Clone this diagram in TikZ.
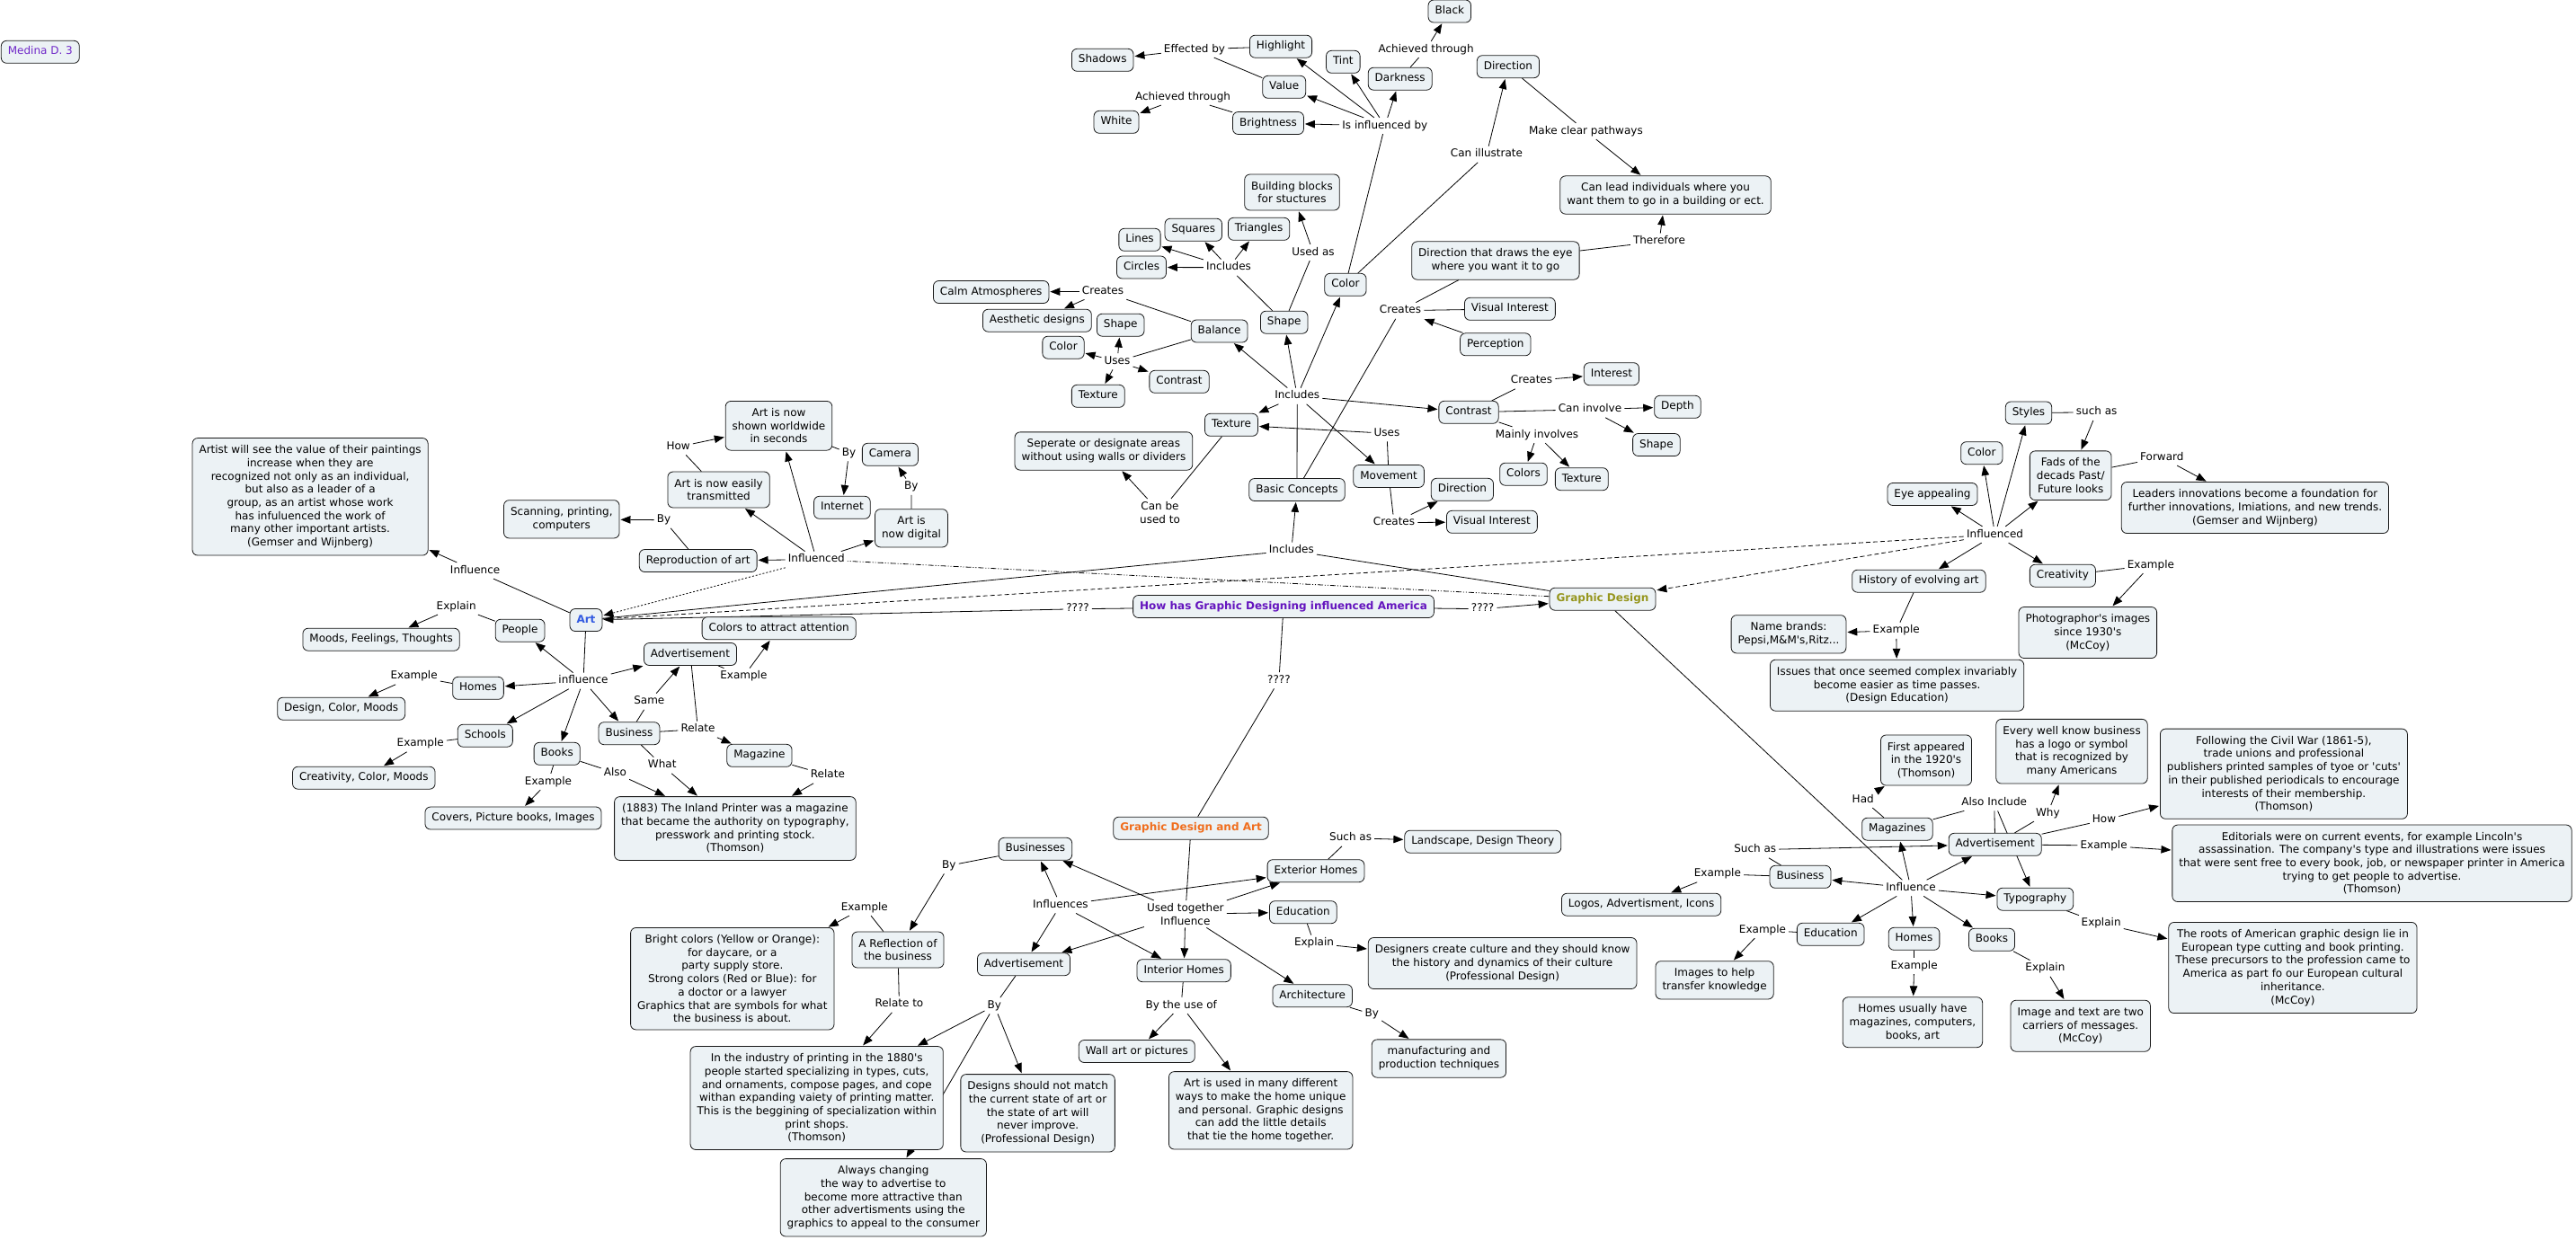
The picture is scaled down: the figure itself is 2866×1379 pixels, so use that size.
\documentclass[tikz,border=0pt]{standalone}
\usepackage{fontspec}
\setmainfont{DejaVu Sans}[Ligatures=TeXOff]
\usetikzlibrary{arrows.meta}
\definecolor{boxfill}{RGB}{236,242,245}
\definecolor{medpurple}{RGB}{112,40,200}
\definecolor{hpurple}{RGB}{100,20,190}
\definecolor{artblue}{RGB}{50,90,225}
\definecolor{gdolive}{RGB}{150,150,30}
\definecolor{gdaorange}{RGB}{240,110,30}
\newcommand\myfs{\fontsize{12}{14.7}\selectfont}
\pgfdeclarelayer{bg}
\pgfsetlayers{bg,main}
\tikzset{
  cbox/.style={draw=black!90, fill=boxfill, rounded corners=6pt, line width=0.8pt, inner xsep=7.5pt, inner ysep=6.6pt, text height=9pt, text depth=2.8pt},
  mbox/.style={draw=black!90, fill=boxfill, rounded corners=6pt, line width=0.8pt, inner xsep=7.5pt, inner ysep=8pt, align=center},
  lbl/.style={inner sep=3pt, text height=9pt, text depth=2.8pt},
  mlbl/.style={inner sep=3pt, align=center},
  ln/.style={line width=0.8pt},
  arr/.style={line width=0.8pt, -{Triangle[length=11pt,width=8.5pt]}, shorten >=1pt},
  dashdd/.style={dash pattern=on 6pt off 2pt on 1pt off 2pt on 1pt off 2pt},
  dotln/.style={dash pattern=on 2pt off 2pt},
  dashln/.style={dash pattern=on 5pt off 3pt},
  boldf/.style={font=\myfs\bfseries}
}
\begin{document}
\begin{tikzpicture}[x=1pt,y=-1pt, every node/.style={font=\myfs}]
\useasboundingbox (0,0) rectangle (2866,1379);
\begin{pgfonlayer}{bg}
\fill[white] (0,0) rectangle (2866,1379);
\end{pgfonlayer}

% ---------- concepts ----------
\node[cbox,text=medpurple] (medina) at (44.8,57.8) {Medina D. 3};
\node[cbox] (shadows) at (1226.7,66.8) {Shadows};
\node[cbox] (highlight) at (1425,51.7) {Highlight};
\node[cbox] (value) at (1428.7,96.8) {Value};
\node[cbox] (white) at (1242,135.8) {White};
\node[cbox] (brightness) at (1411,137) {Brightness};
\node[cbox] (black) at (1612.8,12.5) {Black};
\node[cbox] (tint) at (1494.3,68.8) {Tint};
\node[cbox] (darkness) at (1557.7,87.7) {Darkness};
\node[cbox] (direction1) at (1677.9,74.2) {Direction};
\node[mbox] (canlead) at (1853,217) {Can lead individuals where you\\want them to go in a building or ect.};
\node[mbox] (drawseye) at (1663.9,290) {Direction that draws the eye\\where you want it to go};
\node[cbox] (color1) at (1496.9,316.8) {Color};
\node[mbox] (building) at (1437.5,214) {Building blocks\\for stuctures};
\node[cbox] (squares) at (1327.8,255.7) {Squares};
\node[cbox] (triangles) at (1400.6,254.8) {Triangles};
\node[cbox] (lines) at (1268,266.8) {Lines};
\node[cbox] (circles) at (1270,297.5) {Circles};
\node[cbox] (calm) at (1102.7,325) {Calm Atmospheres};
\node[cbox] (aesthetic) at (1153.9,356.7) {Aesthetic designs};
\node[cbox] (shape2) at (1246.7,361.7) {Shape};
\node[cbox] (color2) at (1183,386.7) {Color};
\node[cbox] (contrast2) at (1312,424.8) {Contrast};
\node[cbox] (texture2) at (1221.8,440.8) {Texture};
\node[cbox] (balance) at (1356.6,368.5) {Balance};
\node[cbox] (shape1) at (1428.7,358.7) {Shape};
\node[cbox] (visint1) at (1679.9,343.8) {Visual Interest};
\node[cbox] (perception) at (1663.8,383.3) {Perception};
\node[cbox] (interest) at (1792.9,416.2) {Interest};
\node[cbox] (contrast1) at (1634,458.8) {Contrast};
\node[cbox] (depth) at (1866.4,452.8) {Depth};
\node[cbox] (shape3) at (1842.9,495) {Shape};
\node[cbox] (colors) at (1695,527.7) {Colors};
\node[cbox] (texture3) at (1759.8,533.2) {Texture};
\node[cbox] (texture1) at (1370,472.8) {Texture};
\node[mbox] (seperate) at (1227.9,502) {Seperate or designate areas\\without using walls or dividers};
\node[cbox] (movement) at (1545.1,530) {Movement};
\node[cbox] (direction2) at (1626.9,544.8) {Direction};
\node[cbox] (visint2) at (1659.9,580.8) {Visual Interest};
\node[cbox] (basic) at (1443,545) {Basic Concepts};
\node[mbox] (shownworld) at (866.5,473.8) {Art is now\\shown worldwide\\in seconds};
\node[cbox] (camera) at (990.4,505.8) {Camera};
\node[cbox] (internet) at (936.9,564.8) {Internet};
\node[mbox] (digital) at (1014,587.8) {Art is\\now digital};
\node[mbox] (transmitted) at (799.6,545) {Art is now easily\\transmitted};
\node[mbox] (scanning) at (624.8,577.8) {Scanning, printing,\\computers};
\node[cbox] (reproduction) at (776.7,624) {Reproduction of art};
\node[mbox] (artist) at (345.1,552.8) {Artist will see the value of their paintings\\increase when they are\\recognized not only as an individual,\\but also as a leader of a\\group, as an artist whose work\\has infuluenced the work of\\many other important artists.\\(Gemser and Wijnberg)};
\node[cbox,boldf,text=artblue] (art) at (652,690) {Art};
\node[cbox] (people) at (578.6,701.7) {People};
\node[cbox] (moods) at (424.1,711.7) {Moods, Feelings, Thoughts};
\node[cbox] (homes1) at (532,765.8) {Homes};
\node[cbox] (dcm) at (379.7,788.7) {Design, Color, Moods};
\node[cbox] (schools) at (539.8,818.7) {Schools};
\node[cbox] (ccm) at (404.8,865.7) {Creativity, Color, Moods};
\node[cbox] (books1) at (619.7,838.8) {Books};
\node[cbox] (covers) at (571,910.5) {Covers, Picture books, Images};
\node[cbox] (business1) at (700,816.2) {Business};
\node[cbox] (adv1) at (768,728) {Advertisement};
\node[cbox] (colorsattr) at (866.7,699.2) {Colors to attract attention};
\node[cbox] (magazine) at (844.9,840.8) {Magazine};
\node[mbox] (inland) at (817.9,922) {(1883) The Inland Printer was a magazine\\that became the authority on typography,\\presswork and printing stock.\\(Thomson)};
\node[cbox,boldf,text=hpurple] (howhas) at (1428,675) {How has Graphic Designing influenced America};
\node[cbox,boldf,text=gdolive] (gd) at (1783,666.7) {Graphic Design};
\node[cbox,boldf,text=gdaorange] (gda) at (1325,921.7) {Graphic Design and Art};
% right side
\node[cbox] (styles) at (2257,459.5) {Styles};
\node[cbox] (color3) at (2204.8,504.2) {Color};
\node[mbox] (fads) at (2303.7,529.2) {Fads of the\\decads Past/\\Future looks};
\node[mbox] (leaders) at (2508.9,565) {Leaders innovations become a foundation for\\further innovations, Imiations, and new trends.\\(Gemser and Wijnberg)};
\node[cbox] (eye) at (2150,550) {Eye appealing};
\node[cbox] (history) at (2134.9,646.7) {History of evolving art};
\node[cbox] (creativity) at (2294.9,640.7) {Creativity};
\node[mbox] (photo) at (2322.8,704) {Photographor's images\\since 1930's\\(McCoy)};
\node[mbox] (namebrands) at (1990,705.8) {Name brands:\\Pepsi,M\&M's,Ritz...};
\node[mbox] (issues) at (2110.6,762.7) {Issues that once seemed complex invariably\\become easier as time passes.\\(Design Education)};
\node[mbox] (firstapp) at (2143,846) {First appeared\\in the 1920's\\(Thomson)};
\node[mbox] (everywell) at (2305,836.2) {Every well know business\\has a logo or symbol\\that is recognized by\\many Americans};
\node[mbox] (civilwar) at (2540.9,861.2) {Following the Civil War (1861-5),\\trade unions and professional\\publishers printed samples of tyoe or 'cuts'\\in their published periodicals to encourage\\interests of their membership.\\(Thomson)};
\node[cbox] (magazines) at (2110.9,922.7) {Magazines};
\node[cbox] (adv3) at (2219.7,939.8) {Advertisement};
\node[mbox] (editorials) at (2639,960.8) {Editorials were on current events, for example Lincoln's\\assassination. The company's type and illustrations were issues\\that were sent free to every book, job, or newspaper printer in America\\trying to get people to advertise.\\(Thomson)};
\node[cbox] (typography) at (2264.3,1000.7) {Typography};
\node[mbox] (roots) at (2550.9,1077) {The roots of American graphic design lie in\\European type cutting and book printing.\\These precursors to the profession came to\\America as part fo our European cultural\\inheritance.\\(McCoy)};
\node[cbox] (homes3) at (2129.5,1044.8) {Homes};
\node[cbox] (books3) at (2216,1045.8) {Books};
\node[mbox] (homesusually) at (2127.9,1137.7) {Homes usually have\\magazines, computers,\\books, art};
\node[mbox] (imagetext) at (2314.7,1141.7) {Image and text are two\\carriers of messages.\\(McCoy)};
\node[cbox] (business3) at (2003,975.8) {Business};
\node[cbox] (logos) at (1826.1,1006.7) {Logos, Advertisment, Icons};
\node[cbox] (education3) at (2036.7,1039.8) {Education};
\node[mbox] (imageshelp) at (1907.6,1090.8) {Images to help\\transfer knowledge};
% GDA side
\node[cbox] (landscape) at (1649.8,936.7) {Landscape, Design Theory};
\node[cbox] (exterior) at (1464,969.2) {Exterior Homes};
\node[cbox] (education2) at (1449.8,1015.2) {Education};
\node[mbox] (designers) at (1671.6,1072) {Designers create culture and they should know\\the history and dynamics of their culture\\(Professional Design)};
\node[cbox] (architecture) at (1460.2,1108.2) {Architecture};
\node[mbox] (manufacturing) at (1600.9,1178) {manufacturing and\\production techniques};
\node[cbox] (businesses) at (1151.9,944.8) {Businesses};
\node[mbox] (reflection) at (999,1057) {A Reflection of\\the business};
\node[mbox] (bright) at (814.8,1089.2) {Bright colors (Yellow or Orange):\\for daycare, or a\\party supply store.\\Strong colors (Red or Blue): for\\a doctor or a lawyer\\Graphics that are symbols for what\\the business is about.};
\node[cbox] (adv2) at (1139,1073.2) {Advertisement};
\node[cbox] (interior) at (1317.2,1080.2) {Interior Homes};
\node[cbox] (wallart) at (1264.8,1170) {Wall art or pictures};
\node[mbox] (industry) at (908.7,1222) {In the industry of printing in the 1880's\\people started specializing in types, cuts,\\and ornaments, compose pages, and cope\\withan expanding vaiety of printing matter.\\This is the beggining of specialization within\\print shops.\\(Thomson)};
\node[mbox] (designsnot) at (1154.6,1238.8) {Designs should not match\\the current state of art or\\the state of art will\\never improve.\\(Professional Design)};
\node[mbox] (artused) at (1402.7,1235.8) {Art is used in many different\\ways to make the home unique\\and personal. Graphic designs\\can add the little details\\that tie the home together.};
\node[mbox] (always) at (982.8,1332.8) {Always changing\\the way to advertise to\\become more attractive than\\other advertisments using the\\graphics to appeal to the consumer};

% ---------- linking phrases ----------
\node[lbl] (effby) at (1329,55) {Effected by};
\node[lbl] (ach1) at (1316,108) {Achieved through};
\node[lbl] (ach2) at (1586.6,55) {Achieved through};
\node[lbl] (isinf) at (1540.8,140) {Is influenced by};
\node[lbl] (makeclear) at (1764.4,146) {Make clear pathways};
\node[lbl] (canill) at (1654,171.7) {Can illustrate};
\node[lbl] (therefore) at (1846,268.7) {Therefore};
\node[lbl] (usedas) at (1461,281) {Used as};
\node[lbl] (creates1) at (1558,345.7) {Creates};
\node[lbl] (includes1) at (1367,297.7) {Includes};
\node[lbl] (creates2) at (1227,324.3) {Creates};
\node[lbl] (uses1) at (1243,402.3) {Uses};
\node[lbl] (creates3) at (1704,423.7) {Creates};
\node[lbl] (includes2) at (1443.2,440.7) {Includes};
\node[lbl] (caninv) at (1769,455.7) {Can involve};
\node[lbl] (uses2) at (1543,482.3) {Uses};
\node[lbl] (mainly) at (1710,484) {Mainly involves};
\node[lbl] (creates4) at (1551,581.7) {Creates};
\node[mlbl] (canbe) at (1290.5,570.2) {Can be\\used to};
\node[lbl] (includes3) at (1436.8,612.7) {Includes};
\node[lbl] (how1) at (754.6,497.3) {How};
\node[lbl] (by1) at (944.5,504.3) {By};
\node[lbl] (by2) at (1013.9,541.7) {By};
\node[lbl] (by3) at (738.5,578.7) {By};
\node[lbl] (influenced1) at (908.3,622.7) {Influenced};
\node[lbl] (influence1) at (528.6,635) {Influence};
\node[lbl] (explain1) at (507.7,675) {Explain};
\node[lbl] (q1) at (1199,677.7) {????};
\node[lbl] (q2) at (1649.6,677.7) {????};
\node[lbl] (q3) at (1422.9,757.3) {????};
\node[lbl] (influence2) at (649,757.7) {influence};
\node[lbl] (example1) at (460.6,752.7) {Example};
\node[lbl] (example2) at (827.4,752.7) {Example};
\node[lbl] (same) at (722.3,780.7) {Same};
\node[lbl] (relate1) at (776.5,811.7) {Relate};
\node[lbl] (example3) at (467.7,827.7) {Example};
\node[lbl] (what) at (736.7,851.7) {What};
\node[lbl] (also) at (684.4,860) {Also};
\node[lbl] (relate2) at (920.9,862.7) {Relate};
\node[lbl] (example4) at (610,870) {Example};
\node[lbl] (suchas1) at (2332.6,458.8) {such as};
\node[lbl] (forward) at (2405.3,509) {Forward};
\node[lbl] (influenced2) at (2219.6,595) {Influenced};
\node[lbl] (example5) at (2392.9,629) {Example};
\node[lbl] (example6) at (2109.7,701.7) {Example};
\node[lbl] (had) at (2072.7,890) {Had};
\node[lbl] (alsoinc) at (2218.7,893.3) {Also Include};
\node[lbl] (why) at (2278.3,905) {Why};
\node[lbl] (how2) at (2341,912.7) {How};
\node[lbl] (example7) at (2340.6,941) {Example};
\node[lbl] (influence3) at (2126,988.3) {Influence};
\node[lbl] (explain2) at (2337.6,1027.7) {Explain};
\node[lbl] (example8) at (2129.6,1075) {Example};
\node[lbl] (explain3) at (2275.4,1077.7) {Explain};
\node[lbl] (suchas2) at (1952.7,945.7) {Such as};
\node[lbl] (example9) at (1910.9,972.7) {Example};
\node[lbl] (example10) at (1961,1035) {Example};
\node[lbl] (suchas3) at (1502.6,932.7) {Such as};
\node[lbl] (explain4) at (1462,1049.7) {Explain};
\node[lbl] (by4) at (1526.3,1128.7) {By};
\node[lbl] (by5) at (1055.9,963.3) {By};
\node[lbl] (example11) at (961.8,1010) {Example};
\node[lbl] (influences) at (1179.9,1007.3) {Influences};
\node[mlbl] (usedtog) at (1318.8,1017.2) {Used together\\Influence};
\node[lbl] (relateto) at (1000.4,1117.7) {Relate to};
\node[lbl] (by6) at (1106.4,1119.3) {By};
\node[lbl] (byuse) at (1314.2,1119) {By the use of};

% ---------- connectors ----------
\begin{pgfonlayer}{bg}
% value / color cluster
\draw[ln] (highlight) -- (effby);
\draw[ln] (value) -- (effby);
\draw[arr] (effby) -- (shadows);
\draw[ln] (brightness) -- (ach1);
\draw[arr] (ach1) -- (white);
\draw[ln] (color1) -- (isinf);
\draw[arr] (isinf) -- (brightness);
\draw[arr] (isinf) -- (value);
\draw[arr] (isinf) -- (highlight);
\draw[arr] (isinf) -- (tint);
\draw[arr] (isinf) -- (darkness);
\draw[ln] (darkness) -- (ach2);
\draw[arr] (ach2) -- (black);
\draw[ln] (color1) -- (canill);
\draw[arr] (canill) -- (direction1);
\draw[ln] (direction1) -- (makeclear);
\draw[arr] (makeclear) -- (canlead);
\draw[ln] (drawseye) -- (therefore);
\draw[arr] (therefore) -- (canlead);
\draw[ln] (basic) -- (creates1);
\draw[ln] (creates1) -- (drawseye);
\draw[ln] (creates1) -- (visint1);
\draw[arr] (perception) -- (creates1);
% shape / balance
\draw[ln] (shape1) -- (usedas);
\draw[arr] (usedas) -- (building);
\draw[ln] (shape1) -- (includes1);
\draw[arr] (includes1) -- (circles);
\draw[arr] (includes1) -- (lines);
\draw[arr] (includes1) -- (squares);
\draw[arr] (includes1) -- (triangles);
\draw[ln] (balance) -- (creates2);
\draw[arr] (creates2) -- (calm);
\draw[arr] (creates2) -- (aesthetic);
\draw[ln] (balance) -- (uses1);
\draw[arr] (uses1) -- (color2);
\draw[arr] (uses1) -- (shape2);
\draw[arr] (uses1) -- (texture2);
\draw[arr] (uses1) -- (contrast2);
% basic concepts hub
\draw[ln] (basic) -- (includes2);
\draw[arr] (includes2) -- (shape1);
\draw[arr] (includes2) -- (color1);
\draw[arr] (includes2) -- (contrast1);
\draw[arr] (includes2) -- (texture1);
\draw[arr] (includes2) -- (balance);
\draw[arr] (includes2) -- (movement);
\draw[ln] (contrast1) -- (creates3);
\draw[arr] (creates3) -- (interest);
\draw[ln] (contrast1) -- (caninv);
\draw[arr] (caninv) -- (depth);
\draw[arr] (caninv) -- (shape3);
\draw[ln] (contrast1) -- (mainly);
\draw[arr] (mainly) -- (colors);
\draw[arr] (mainly) -- (texture3);
\draw[ln] (movement) -- (uses2);
\draw[arr] (uses2) -- (texture1);
\draw[ln] (movement) -- (creates4);
\draw[arr] (creates4) -- (direction2);
\draw[arr] (creates4) -- (visint2);
\draw[ln] (texture1) -- (canbe);
\draw[arr] (canbe) -- (seperate);
\draw[ln] (art) -- (includes3);
\draw[ln] (gd) -- (includes3);
\draw[arr] (includes3) -- (basic);
% art cluster
\draw[ln] (art) -- (influence1);
\draw[arr] (influence1) -- (artist);
\draw[ln] (art) -- (influence2);
\draw[arr] (influence2) -- (people);
\draw[arr] (influence2) -- (homes1);
\draw[arr] (influence2) -- (schools);
\draw[arr] (influence2) -- (books1);
\draw[arr] (influence2) -- (business1);
\draw[arr] (influence2) -- (adv1);
\draw[ln] (people) -- (explain1);
\draw[arr] (explain1) -- (moods);
\draw[ln] (homes1) -- (example1);
\draw[arr] (example1) -- (dcm);
\draw[ln] (schools) -- (example3);
\draw[arr] (example3) -- (ccm);
\draw[ln] (books1) -- (example4);
\draw[arr] (example4) -- (covers);
\draw[ln] (books1) -- (also);
\draw[arr] (also) -- (inland);
\draw[ln] (business1) -- (what);
\draw[arr] (what) -- (inland);
\draw[ln] (business1) -- (same);
\draw[arr] (same) -- (adv1);
\draw[ln] (business1) -- (relate1);
\draw[ln] (adv1) -- (relate1);
\draw[arr] (relate1) -- (magazine);
\draw[ln] (adv1) -- (example2);
\draw[arr] (example2) -- (colorsattr);
\draw[ln] (magazine) -- (relate2);
\draw[arr] (relate2) -- (inland);
\draw[arr] (influenced1) -- (reproduction);
\draw[arr] (influenced1) -- (transmitted);
\draw[arr] (influenced1) -- (shownworld);
\draw[arr] (influenced1) -- (digital);
\draw[ln,dashdd] (gd) -- (influenced1);
\draw[arr,dotln] (influenced1) -- (art);
\draw[ln] (transmitted) -- (how1);
\draw[arr] (how1) -- (shownworld);
\draw[ln] (shownworld) -- (by1);
\draw[arr] (by1) -- (internet);
\draw[ln] (digital) -- (by2);
\draw[arr] (by2) -- (camera);
\draw[ln] (reproduction) -- (by3);
\draw[arr] (by3) -- (scanning);
% centre
\draw[ln] (howhas) -- (q1);
\draw[arr] (q1) -- (art);
\draw[ln] (howhas) -- (q2);
\draw[arr] (q2) -- (gd);
\draw[ln] (howhas) -- (q3);
\draw[ln] (q3) -- (gda);
% graphic design cluster
\draw[ln,dashln] (art) -- (influenced2);
\draw[arr,dashln] (influenced2) -- (gd);
\draw[arr] (influenced2) -- (eye);
\draw[arr] (influenced2) -- (color3);
\draw[arr] (influenced2) -- (styles);
\draw[arr] (influenced2) -- (fads);
\draw[arr] (influenced2) -- (history);
\draw[arr] (influenced2) -- (creativity);
\draw[ln] (styles) -- (suchas1);
\draw[arr] (suchas1) -- (fads);
\draw[ln] (fads) -- (forward);
\draw[arr] (forward) -- (leaders);
\draw[ln] (creativity) -- (example5);
\draw[arr] (example5) -- (photo);
\draw[ln] (history) -- (example6);
\draw[arr] (example6) -- (namebrands);
\draw[arr] (example6) -- (issues);
\draw[ln] (gd) -- (influence3);
\draw[arr] (influence3) -- (business3);
\draw[arr] (influence3) -- (education3);
\draw[arr] (influence3) -- (homes3);
\draw[arr] (influence3) -- (books3);
\draw[arr] (influence3) -- (typography);
\draw[arr] (influence3) -- (adv3);
\draw[arr] (influence3) -- (magazines);
\draw[ln] (magazines) -- (had);
\draw[arr] (had) -- (firstapp);
\draw[ln] (magazines) -- (alsoinc);
\draw[ln] (adv3) -- (alsoinc);
\draw[arr] (alsoinc) -- (typography);
\draw[ln] (adv3) -- (why);
\draw[arr] (why) -- (everywell);
\draw[ln] (adv3) -- (how2);
\draw[arr] (how2) -- (civilwar);
\draw[ln] (adv3) -- (example7);
\draw[arr] (example7) -- (editorials);
\draw[ln] (business3) -- (suchas2);
\draw[arr] (suchas2) -- (adv3);
\draw[ln] (business3) -- (example9);
\draw[arr] (example9) -- (logos);
\draw[ln] (education3) -- (example10);
\draw[arr] (example10) -- (imageshelp);
\draw[ln] (homes3) -- (example8);
\draw[arr] (example8) -- (homesusually);
\draw[ln] (books3) -- (explain3);
\draw[arr] (explain3) -- (imagetext);
\draw[ln] (typography) -- (explain2);
\draw[arr] (explain2) -- (roots);
% graphic design and art cluster
\draw[ln] (gda) -- (usedtog);
\draw[arr] (usedtog) -- (exterior);
\draw[arr] (usedtog) -- (education2);
\draw[arr] (usedtog) -- (interior);
\draw[arr] (usedtog) -- (architecture);
\draw[arr] (usedtog) -- (businesses);
\draw[arr] (usedtog) -- (adv2);
\draw[arr] (influences) -- (businesses);
\draw[arr] (influences) -- (adv2);
\draw[arr] (influences) -- (interior);
\draw[arr] (influences) -- (exterior);
\draw[ln] (exterior) -- (suchas3);
\draw[arr] (suchas3) -- (landscape);
\draw[ln] (education2) -- (explain4);
\draw[arr] (explain4) -- (designers);
\draw[ln] (architecture) -- (by4);
\draw[arr] (by4) -- (manufacturing);
\draw[ln] (interior) -- (byuse);
\draw[arr] (byuse) -- (wallart);
\draw[arr] (byuse) -- (artused);
\draw[ln] (businesses) -- (by5);
\draw[arr] (by5) -- (reflection);
\draw[ln] (reflection) -- (example11);
\draw[arr] (example11) -- (bright);
\draw[ln] (reflection) -- (relateto);
\draw[arr] (relateto) -- (industry);
\draw[ln] (adv2) -- (by6);
\draw[arr] (by6) -- (industry);
\draw[arr] (by6) -- (designsnot);
\draw[arr] (by6) -- (always);
\end{pgfonlayer}
\end{tikzpicture}
\end{document}
